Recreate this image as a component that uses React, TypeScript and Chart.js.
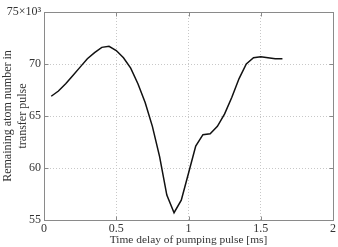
import React, { useEffect, useRef } from "react";
import { Chart, registerables } from "chart.js";

Chart.register(...registerables);

const delays = [0.05, 0.1, 0.15, 0.2, 0.25, 0.3, 0.35, 0.4, 0.45, 0.5, 0.55, 0.6, 0.65, 0.7, 0.75, 0.8, 0.85, 0.9, 0.95, 1.0, 1.05, 1.1, 1.15, 1.2, 1.25, 1.3, 1.35, 1.4, 1.45, 1.5, 1.55, 1.6, 1.65];
const atoms = [66.9, 67.4, 68.1, 68.9, 69.7, 70.5, 71.1, 71.6, 71.7, 71.3, 70.6, 69.6, 68.1, 66.3, 64.0, 61.1, 57.4, 55.7, 56.9, 59.5, 62.1, 63.2, 63.3, 64.0, 65.2, 66.8, 68.6, 70.0, 70.6, 70.7, 70.6, 70.5, 70.5];
const xTicks = [0, 0.5, 1, 1.5, 2];
const yTicks = [55, 60, 65, 70, 75];
const xTitle = "Time delay of pumping pulse [ms]";
const yTitle = ["Remaining atom number in", "transfer pulse"];

const W = 338;
const H = 247;
const FONT = "'Liberation Serif', 'DejaVu Serif', serif";

export default function App() {
  const ref = useRef<HTMLCanvasElement>(null);
  useEffect(() => {
    const canvas = ref.current!;
    const boxPlugin = {
      id: "box",
      afterDraw(chart: any) {
        const { ctx, chartArea: a } = chart;
        const L = Math.round(a.left) + 0.5;
        const T = Math.round(a.top) + 0.5;
        const R = Math.round(a.right) + 0.5;
        const B = Math.round(a.bottom) + 0.5;
        ctx.save();
        ctx.strokeStyle = "#8a8a8a";
        ctx.lineWidth = 1;
        ctx.strokeRect(L, T, R - L, B - T);
        const tl = 4;
        ctx.beginPath();
        const xs = chart.scales.x;
        xTicks.forEach((v) => {
          const px = Math.round(xs.getPixelForValue(v)) + 0.5;
          ctx.moveTo(px, B);
          ctx.lineTo(px, B - tl);
          ctx.moveTo(px, T);
          ctx.lineTo(px, T + tl);
        });
        const ys = chart.scales.y;
        yTicks.forEach((v) => {
          const py = Math.round(ys.getPixelForValue(v)) + 0.5;
          ctx.moveTo(L, py);
          ctx.lineTo(L + tl, py);
          ctx.moveTo(R, py);
          ctx.lineTo(R - tl, py);
        });
        ctx.stroke();
        ctx.restore();
      },
    };
    const chart = new Chart(canvas, {
      type: "line",
      data: {
        datasets: [
          {
            data: delays.map((d, i) => ({ x: d, y: atoms[i] })),
            borderColor: "#111",
            borderWidth: 1.5,
            pointRadius: 0,
            tension: 0,
            fill: false,
          },
        ],
      },
      options: {
        responsive: false,
        animation: false,
        devicePixelRatio: 1,
        layout: { padding: { top: 12, right: 4, left: 1, bottom: 0 } },
        plugins: { legend: { display: false }, tooltip: { enabled: false } },
        scales: {
          x: {
            type: "linear",
            min: 0,
            max: 2,
            afterBuildTicks: (s: any) => {
              s.ticks = xTicks.map((v) => ({ value: v }));
            },
            afterFit: (s: any) => {
              s.height = 27;
            },
            ticks: {
              color: "#333",
              font: { family: FONT, size: 12 },
              padding: 2,
              maxRotation: 0,
              callback: (v: any) => String(v),
            },
            grid: { color: "#c8c8c8", drawTicks: false },
            border: { display: false, dash: [1, 2] },
            title: {
              display: true,
              text: xTitle,
              color: "#333",
              font: { family: FONT, size: 11.4 },
              padding: { top: -2, bottom: 0 },
            },
          },
          y: {
            type: "linear",
            min: 55,
            max: 75,
            afterBuildTicks: (s: any) => {
              s.ticks = yTicks.map((v) => ({ value: v }));
            },
            afterFit: (s: any) => {
              s.width = 43;
            },
            ticks: {
              color: "#333",
              font: { family: FONT, size: 12 },
              padding: 3,
              callback: (v: any) => (v === 75 ? "75×10³" : String(v)),
            },
            grid: { color: "#c8c8c8", drawTicks: false },
            border: { display: false, dash: [1, 2] },
            title: {
              display: true,
              text: yTitle,
              color: "#333",
              font: { family: FONT, size: 12, lineHeight: 1.2 },
              padding: { top: 0, bottom: 0 },
            },
          },
        },
      },
      plugins: [boxPlugin],
    });
    return () => chart.destroy();
  }, []);
  return (
    <div style={{ position: "fixed", left: 0, top: 0, width: W, height: H, background: "#fff" }}>
      <canvas ref={ref} width={W} height={H} style={{ width: W, height: H, display: "block" }} />
    </div>
  );
}
